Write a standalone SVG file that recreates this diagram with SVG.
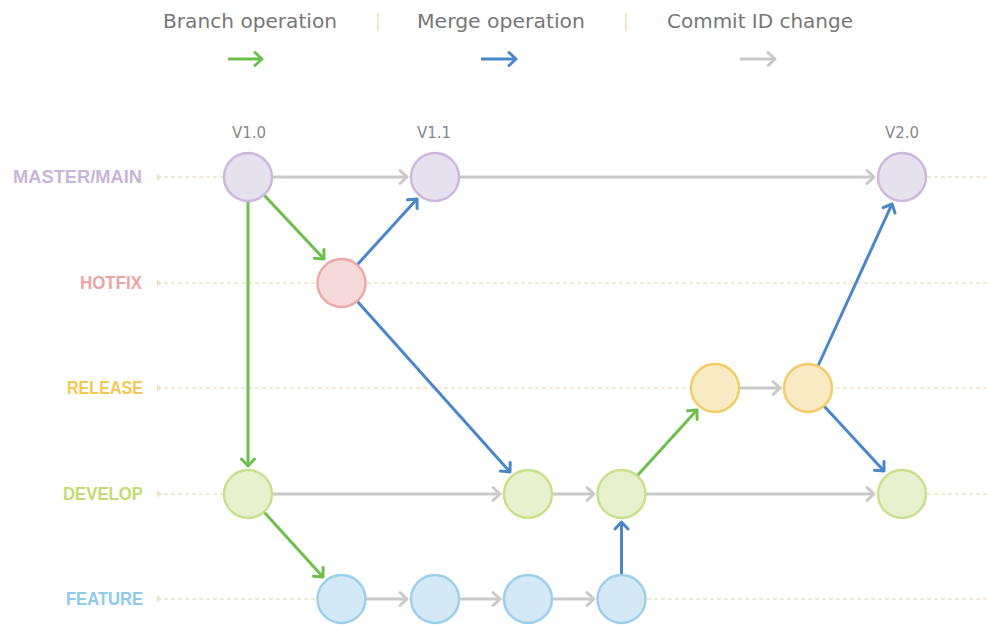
<svg xmlns="http://www.w3.org/2000/svg" width="988" height="625" viewBox="0 0 988 625">
<style>
.legend{font-family:"DejaVu Sans","Liberation Sans",sans-serif;font-size:19.5px;fill:#777777}
.lane{font-family:"Liberation Sans",Arial,sans-serif;font-size:18px;font-weight:bold;text-anchor:end}
.ver{font-family:"DejaVu Sans","Liberation Sans",sans-serif;font-size:15px;fill:#888888;text-anchor:middle}
.guide{stroke:#ebe2c6;stroke-width:1.3;stroke-dasharray:4 3;fill:none}
.sep{stroke:#f0dfab;stroke-width:1.5}
.gray{stroke:#c9c9c9;stroke-width:3;fill:none;marker-end:url(#ag)}
.green{stroke:#6cbf4c;stroke-width:3;fill:none;marker-end:url(#agr)}
.blue{stroke:#4a87c9;stroke-width:3;fill:none;marker-end:url(#ab)}
.node{stroke-width:2.5}
.m{fill:#e7e0ef;stroke:#cdb9de}
.h{fill:#f6dada;stroke:#eca9a9}
.r{fill:#f8eac2;stroke:#f0cd68}
.d{fill:#e7f1cd;stroke:#c9e08c}
.f{fill:#d4e9f5;stroke:#9dd0eb}
</style>
<defs>
<marker id="ag" markerUnits="userSpaceOnUse" markerWidth="20" markerHeight="20" viewBox="-10 -10 20 20" refX="0" refY="0" orient="auto" overflow="visible"><path d="M-7,-6.5 L0,0 L-7,6.5" fill="none" stroke="#c9c9c9" stroke-width="3" stroke-linejoin="round" stroke-linecap="round"/></marker>
<marker id="agr" markerUnits="userSpaceOnUse" markerWidth="20" markerHeight="20" viewBox="-10 -10 20 20" refX="0" refY="0" orient="auto" overflow="visible"><path d="M-7,-6.5 L0,0 L-7,6.5" fill="none" stroke="#6cbf4c" stroke-width="3" stroke-linejoin="round" stroke-linecap="round"/></marker>
<marker id="ab" markerUnits="userSpaceOnUse" markerWidth="20" markerHeight="20" viewBox="-10 -10 20 20" refX="0" refY="0" orient="auto" overflow="visible"><path d="M-7,-6.5 L0,0 L-7,6.5" fill="none" stroke="#4a87c9" stroke-width="3" stroke-linejoin="round" stroke-linecap="round"/></marker>
<marker id="gs" markerUnits="userSpaceOnUse" markerWidth="10" markerHeight="10" viewBox="0 -5 10 10" refX="0" refY="0" orient="auto" overflow="visible"><path d="M0,-3.5 L5,0 L0,3.5 Z" fill="#ebe2c6"/></marker>
</defs>

<g id="legend">
<text class="legend" x="163" y="28" textLength="174" lengthAdjust="spacingAndGlyphs">Branch operation</text>
<line class="sep" x1="378" y1="13" x2="378" y2="31"/>
<text class="legend" x="417" y="28" textLength="168" lengthAdjust="spacingAndGlyphs">Merge operation</text>
<line class="sep" x1="626" y1="13" x2="626" y2="31"/>
<text class="legend" x="667" y="28" textLength="186" lengthAdjust="spacingAndGlyphs">Commit ID change</text>
<line class="green" x1="228" y1="59" x2="262" y2="59"/>
<line class="blue" x1="481" y1="59" x2="516" y2="59"/>
<line class="gray" x1="740" y1="59" x2="775" y2="59"/>
</g>

<g id="lanes">
<text class="lane" x="142" y="183" fill="#c9b4da" textLength="129" lengthAdjust="spacingAndGlyphs">MASTER/MAIN</text>
<text class="lane" x="142" y="289" fill="#eca3a3" textLength="62" lengthAdjust="spacingAndGlyphs">HOTFIX</text>
<text class="lane" x="143" y="394" fill="#f0c955" textLength="76" lengthAdjust="spacingAndGlyphs">RELEASE</text>
<text class="lane" x="143" y="500" fill="#c3dc72" textLength="80" lengthAdjust="spacingAndGlyphs">DEVELOP</text>
<text class="lane" x="143" y="605" fill="#8fcbe9" textLength="77" lengthAdjust="spacingAndGlyphs">FEATURE</text>
<line class="guide" x1="157" y1="177" x2="988" y2="177" marker-start="url(#gs)"/>
<line class="guide" x1="157" y1="283" x2="988" y2="283" marker-start="url(#gs)"/>
<line class="guide" x1="157" y1="388" x2="988" y2="388" marker-start="url(#gs)"/>
<line class="guide" x1="157" y1="494" x2="988" y2="494" marker-start="url(#gs)"/>
<line class="guide" x1="157" y1="599" x2="988" y2="599" marker-start="url(#gs)"/>
</g>

<g id="connectors">
<line class="gray" x1="272" y1="177" x2="407" y2="177"/>
<line class="gray" x1="459" y1="177" x2="874" y2="177"/>
<line class="gray" x1="272" y1="494" x2="500" y2="494"/>
<line class="gray" x1="552" y1="494" x2="594" y2="494"/>
<line class="gray" x1="646" y1="494" x2="874" y2="494"/>
<line class="gray" x1="739" y1="388" x2="780" y2="388"/>
<line class="gray" x1="366" y1="599" x2="407" y2="599"/>
<line class="gray" x1="459" y1="599" x2="500" y2="599"/>
<line class="gray" x1="552" y1="599" x2="594" y2="599"/>
<line class="green" x1="248" y1="201" x2="248" y2="466"/>
<line class="green" x1="264" y1="195" x2="324" y2="259"/>
<line class="green" x1="264" y1="512" x2="323" y2="577"/>
<line class="green" x1="637" y1="476" x2="697" y2="410"/>
<line class="blue" x1="357" y1="265" x2="417" y2="199"/>
<line class="blue" x1="357" y1="301" x2="510" y2="472"/>
<line class="blue" x1="621.5" y1="575" x2="621.5" y2="522"/>
<line class="blue" x1="818" y1="366" x2="892" y2="204"/>
<line class="blue" x1="824" y1="406" x2="884" y2="471"/>
</g>

<g id="v10"><circle class="node m" cx="248" cy="177" r="24"/><text class="ver" x="249" y="138">V1.0</text></g>
<g id="v11"><circle class="node m" cx="435" cy="177" r="24"/><text class="ver" x="434" y="138">V1.1</text></g>
<g id="v20"><circle class="node m" cx="902" cy="177" r="24"/><text class="ver" x="902" y="138">V2.0</text></g>
<g id="hotfix1"><circle class="node h" cx="341.5" cy="283" r="24"/></g>
<g id="release1"><circle class="node r" cx="715" cy="388" r="24"/></g>
<g id="release2"><circle class="node r" cx="808" cy="388" r="24"/></g>
<g id="develop1"><circle class="node d" cx="248" cy="494" r="24"/></g>
<g id="develop2"><circle class="node d" cx="528" cy="494" r="24"/></g>
<g id="develop3"><circle class="node d" cx="621.5" cy="494" r="24"/></g>
<g id="develop4"><circle class="node d" cx="902" cy="494" r="24"/></g>
<g id="feature1"><circle class="node f" cx="341.5" cy="599" r="24"/></g>
<g id="feature2"><circle class="node f" cx="435" cy="599" r="24"/></g>
<g id="feature3"><circle class="node f" cx="528" cy="599" r="24"/></g>
<g id="feature4"><circle class="node f" cx="621.5" cy="599" r="24"/></g>
</svg>
